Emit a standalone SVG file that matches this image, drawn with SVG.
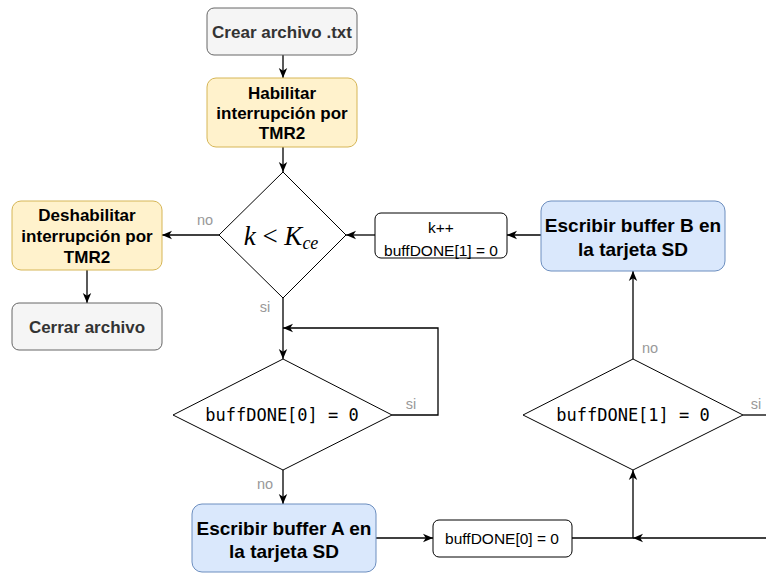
<svg xmlns="http://www.w3.org/2000/svg" width="766" height="573" viewBox="0 0 766 573">
<defs>
<marker id="arr" viewBox="0 0 10 10" refX="10" refY="5" markerWidth="10" markerHeight="10" markerUnits="userSpaceOnUse" orient="auto">
<path d="M0,0.8 L10,5 L0,9.2 L2.8,5 z" fill="#000"/>
</marker>
<style>
.gray rect{fill:#f5f5f5;stroke:#666666;stroke-width:1}
.yel rect{fill:#fff2cc;stroke:#d6b656;stroke-width:1}
.blue rect{fill:#dae8fc;stroke:#6c8ebf;stroke-width:1}
.white rect{fill:#ffffff;stroke:#000;stroke-width:1}
.dia polygon{fill:#fff;stroke:#000;stroke-width:1}
.b17{font-family:"Liberation Sans",Arial,sans-serif;font-weight:bold;font-size:17px;text-anchor:middle}
.b19{font-family:"Liberation Sans",Arial,sans-serif;font-weight:bold;font-size:19px;text-anchor:middle;fill:#000}
.n16{font-family:"Liberation Sans",Arial,sans-serif;font-size:15.5px;text-anchor:middle;fill:#000}
.mono{font-family:"DejaVu Sans Mono","Liberation Mono",monospace;font-size:17px;text-anchor:middle;fill:#000}
.lbl{font-family:"Liberation Sans",Arial,sans-serif;font-size:14.5px;text-anchor:middle;fill:#999999}
#edges path{fill:none;stroke:#000;stroke-width:1.3}
</style>
</defs>
<rect width="766" height="573" fill="#fff"/>
<g id="edges">
<path d="M283,55 L283,78" marker-end="url(#arr)"/>
<path d="M283,147 L283,172" marker-end="url(#arr)"/>
<path d="M219,235 L162,235" marker-end="url(#arr)"/>
<path d="M87,270 L87,303" marker-end="url(#arr)"/>
<path d="M283,298 L283,359" marker-end="url(#arr)"/>
<path d="M392,415 L438,415 L438,328 L283,328" marker-end="url(#arr)"/>
<path d="M283,470 L283,504" marker-end="url(#arr)"/>
<path d="M376,538 L433,538" marker-end="url(#arr)"/>
<path d="M572,538 L633,538 L633,470" marker-end="url(#arr)"/>
<path d="M743,415 L770,415"/>
<path d="M770,538 L633,538" marker-end="url(#arr)"/>
<path d="M633,359 L633,271" marker-end="url(#arr)"/>
<path d="M541,235 L507,235" marker-end="url(#arr)"/>
<path d="M375,235 L346,235" marker-end="url(#arr)"/>
<text class="lbl" x="205" y="225">no</text>
<text class="lbl" x="265" y="312">si</text>
<text class="lbl" x="411" y="409">si</text>
<text class="lbl" x="265" y="489">no</text>
<text class="lbl" x="650" y="353">no</text>
<text class="lbl" x="756" y="409">si</text>
</g>
<g id="crear" class="gray">
<rect x="207" y="8" width="150" height="47" rx="7"/>
<text class="b17" x="282" y="38" fill="#333333">Crear archivo .txt</text>
</g>
<g id="habilitar" class="yel">
<rect x="207" y="78" width="150" height="69" rx="9"/>
<text class="b17" x="282" y="99" fill="#000">Habilitar</text>
<text class="b17" x="282" y="119" fill="#000">interrupción por</text>
<text class="b17" x="282" y="139" fill="#000">TMR2</text>
</g>
<g id="cond_k" class="dia">
<polygon points="283,172 346,235 283,298 219,235"/>
<text x="281" y="245" text-anchor="middle" font-family="'Liberation Serif','Times New Roman',serif" font-style="italic" font-size="27px" fill="#000">k <tspan font-style="normal">&lt;</tspan> K<tspan font-size="18px" dy="4">ce</tspan></text>
</g>
<g id="deshabilitar" class="yel">
<rect x="12" y="201" width="150" height="69" rx="9"/>
<text class="b17" x="87" y="221" fill="#000">Deshabilitar</text>
<text class="b17" x="87" y="242" fill="#000">interrupción por</text>
<text class="b17" x="87" y="263" fill="#000">TMR2</text>
</g>
<g id="cerrar" class="gray">
<rect x="12" y="303" width="150" height="47" rx="7"/>
<text class="b17" x="87" y="333" fill="#333333">Cerrar archivo</text>
</g>
<g id="kinc" class="white">
<rect x="375" y="213" width="132" height="45" rx="6"/>
<text class="n16" x="441" y="233">k++</text>
<text class="n16" x="441" y="256">buffDONE[1] = 0</text>
</g>
<g id="escribirB" class="blue">
<rect x="541" y="201" width="184" height="70" rx="10"/>
<text class="b19" x="633" y="232">Escribir buffer B en</text>
<text class="b19" x="633" y="256">la tarjeta SD</text>
</g>
<g id="cond0" class="dia">
<polygon points="283,359 392,415 283,470 173,415"/>
<text class="mono" x="282" y="421">buffDONE[0] = 0</text>
</g>
<g id="cond1" class="dia">
<polygon points="633,359 743,415 633,470 523,415"/>
<text class="mono" x="633" y="421">buffDONE[1] = 0</text>
</g>
<g id="escribirA" class="blue">
<rect x="192" y="504" width="184" height="68" rx="10"/>
<text class="b19" x="284" y="535">Escribir buffer A en</text>
<text class="b19" x="284" y="558">la tarjeta SD</text>
</g>
<g id="buf0" class="white">
<rect x="433" y="520" width="139" height="37" rx="6"/>
<text class="n16" x="502" y="544">buffDONE[0] = 0</text>
</g>
</svg>
